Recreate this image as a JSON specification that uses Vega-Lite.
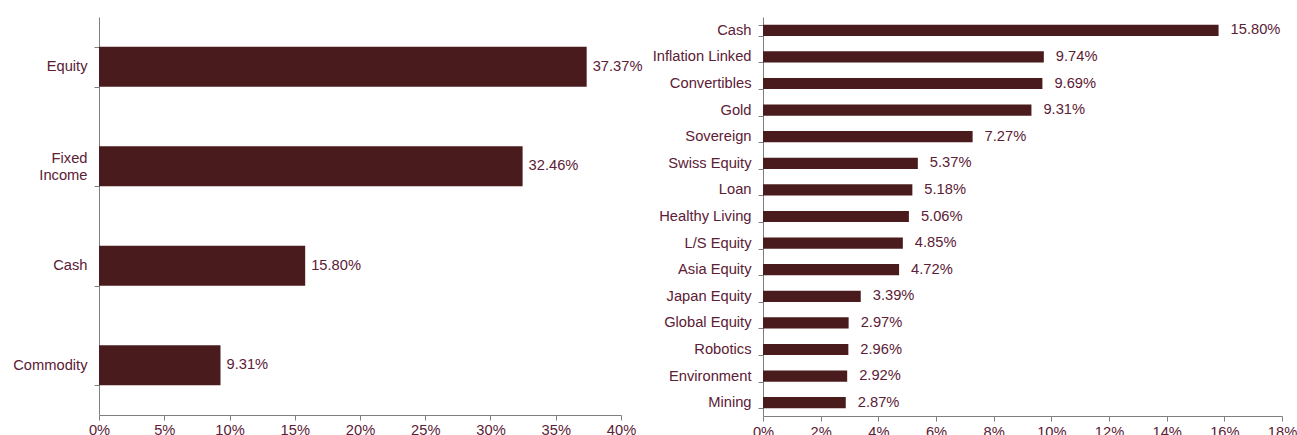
{
  "$schema": "https://vega.github.io/schema/vega-lite/v6.json",
  "padding": {"left": 12, "top": 9, "right": 0, "bottom": 0},
  "background": "white",
  "bounds": "flush",
  "spacing": 142,
  "config": {
    "view": {"stroke": null},
    "font": "Liberation Sans",
    "axis": {
      "labelFont": "Liberation Sans",
      "labelFontSize": 14.7,
      "labelColor": "#5b2035",
      "domainColor": "#7f7f7f",
      "tickColor": "#7f7f7f",
      "tickSize": 5,
      "grid": false,
      "title": null
    }
  },
  "datasets": {
    "left": [
      {"cat": "Equity", "v": 0.3737},
      {"cat": "Fixed Income", "v": 0.3246},
      {"cat": "Cash", "v": 0.158},
      {"cat": "Commodity", "v": 0.0931}
    ],
    "right": [
      {"cat": "Cash", "v": 0.158},
      {"cat": "Inflation Linked", "v": 0.0974},
      {"cat": "Convertibles", "v": 0.0969},
      {"cat": "Gold", "v": 0.0931},
      {"cat": "Sovereign", "v": 0.0727},
      {"cat": "Swiss Equity", "v": 0.0537},
      {"cat": "Loan", "v": 0.0518},
      {"cat": "Healthy Living", "v": 0.0506},
      {"cat": "L/S Equity", "v": 0.0485},
      {"cat": "Asia Equity", "v": 0.0472},
      {"cat": "Japan Equity", "v": 0.0339},
      {"cat": "Global Equity", "v": 0.0297},
      {"cat": "Robotics", "v": 0.0296},
      {"cat": "Environment", "v": 0.0292},
      {"cat": "Mining", "v": 0.0287}
    ]
  },
  "hconcat": [
    {
      "width": 522,
      "height": 398,
      "data": {"name": "left"},
      "encoding": {
        "y": {
          "field": "cat",
          "type": "nominal",
          "sort": null,
          "scale": {"paddingInner": 0.6, "paddingOuter": 0.3},
          "axis": {
            "tickBand": "extent",
            "labelPadding": 7,
            "labelExpr": "datum.value == 'Fixed Income' ? ['Fixed', 'Income'] : datum.value",
            "labelLineHeight": 17,
            "labelOffset": {"condition": {"test": "datum.value == 'Fixed Income'", "value": -8}, "value": 0}
          }
        },
        "x": {
          "field": "v",
          "type": "quantitative",
          "scale": {"domain": [0, 0.4], "nice": false},
          "axis": {
            "values": [0, 0.05, 0.1, 0.15, 0.2, 0.25, 0.3, 0.35, 0.4],
            "format": ".0%",
            "labelFlush": false,
            "labelPadding": 2
          }
        }
      },
      "layer": [
        {"mark": {"type": "bar", "color": "#4a1b1d"}},
        {
          "mark": {"type": "text", "align": "left", "dx": 6, "fontSize": 14.7, "color": "#5b2035", "font": "Liberation Sans"},
          "encoding": {"text": {"field": "v", "type": "quantitative", "format": ".2%"}}
        }
      ]
    },
    {
      "width": 519,
      "height": 399,
      "data": {"name": "right"},
      "encoding": {
        "y": {
          "field": "cat",
          "type": "nominal",
          "sort": null,
          "scale": {"paddingInner": 0.58, "paddingOuter": 0.29},
          "axis": {"tickBand": "extent", "labelPadding": 7}
        },
        "x": {
          "field": "v",
          "type": "quantitative",
          "scale": {"domain": [0, 0.18], "nice": false},
          "axis": {
            "values": [0, 0.02, 0.04, 0.06, 0.08, 0.1, 0.12, 0.14, 0.16, 0.18],
            "format": ".0%",
            "labelFlush": false,
            "labelPadding": 3
          }
        }
      },
      "layer": [
        {"mark": {"type": "bar", "color": "#4a1b1d"}},
        {
          "mark": {"type": "text", "align": "left", "dx": 12, "fontSize": 14.7, "color": "#5b2035", "font": "Liberation Sans"},
          "encoding": {"text": {"field": "v", "type": "quantitative", "format": ".2%"}}
        }
      ]
    }
  ]
}
